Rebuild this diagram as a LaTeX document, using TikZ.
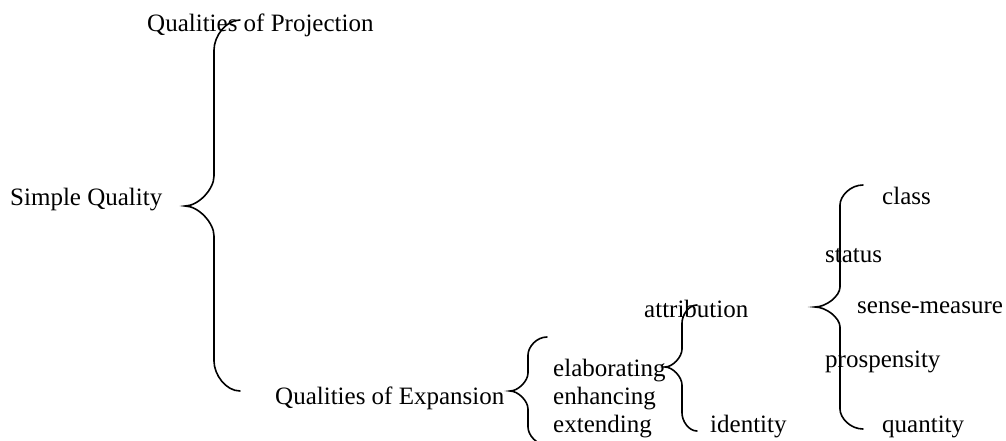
\documentclass[tikz,border=0pt]{standalone}
\usepackage{fontspec}
\setmainfont{Liberation Serif}
\newcommand\bracepath[7]{% #1 end x, #2 spine x, #3 tip x, #4 top y, #5 mid y, #6 bottom y, #7 radius
  \draw[bracestyle] (#1,#4) .. controls ({#1-0.55*(#1-#2)},#4) and (#2,{#4+0.55*#7}) .. (#2,{#4+#7})
    -- (#2,{#5-#7})
    .. controls (#2,{#5-0.55*#7}) and ({#2-0.55*(#2-#3)},#5) .. (#3,#5)
    .. controls ({#2-0.55*(#2-#3)},#5) and (#2,{#5+0.55*#7}) .. (#2,{#5+#7})
    -- (#2,{#6-#7})
    .. controls (#2,{#6-0.55*#7}) and ({#1-0.55*(#1-#2)},#6) .. (#1,#6);}
\begin{document}
\begin{tikzpicture}[x=1pt,y=-1pt,
  lbl/.style={anchor=base west,inner sep=0pt,font=\fontsize{25}{30}\selectfont},
  bracestyle/.style={line width=1.6pt,line cap=round}]
\useasboundingbox (0,0) rectangle (1006,441);
\clip (0,0) rectangle (1006,441);
\fill[white] (0,0) rectangle (1006,441);
% texts
\node[lbl] (proj) at (147,32) {Qualities of Projection};
\node[lbl] (simple) at (10,205) {Simple Quality};
\node[lbl] (expan) at (275,404) {Qualities of Expansion};
\node[lbl] (elab) at (553,376) {elaborating};
\node[lbl] (enh) at (553,404) {enhancing};
\node[lbl] (ext) at (553,432) {extending};
\node[lbl] (attr) at (644,317) {attribution};
\node[lbl] (ident) at (710,432) {identity};
\node[lbl] (class) at (882,204) {class};
\node[lbl] (status) at (825,262) {status};
\node[lbl] (sense) at (857,313) {sense-measure};
\node[lbl] (prosp) at (825,367) {prospensity};
\node[lbl] (quant) at (882,432) {quantity};
% braces
\bracepath{240}{214}{185}{20}{206}{391}{30}
\bracepath{547}{528}{510}{337}{391}{445}{18}
\bracepath{697}{682}{665}{305}{367}{431}{18}
\bracepath{863}{840}{815}{185}{307}{429}{20}
\end{tikzpicture}
\end{document}
